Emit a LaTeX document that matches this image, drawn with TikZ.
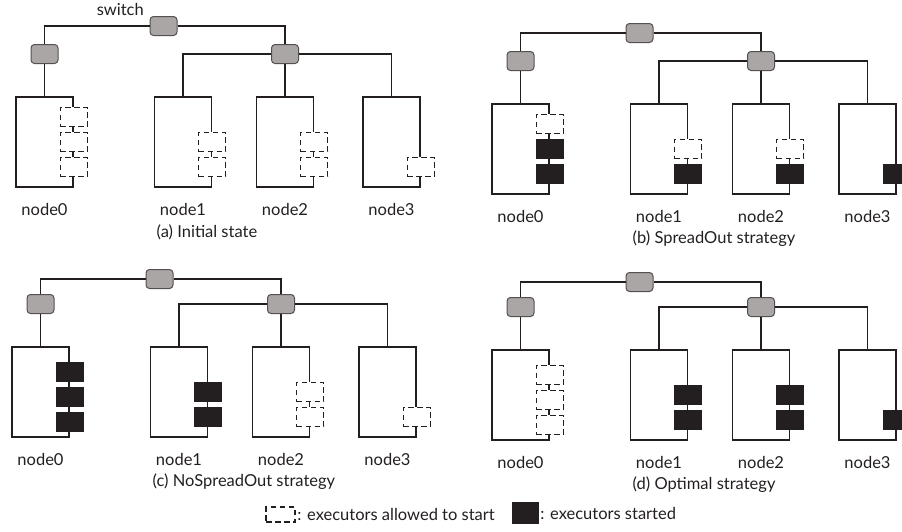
\documentclass[tikz,border=0pt]{standalone}
\usepackage{fontspec}
\setmainfont{Lato}
\usetikzlibrary{positioning}

\definecolor{swfill}{RGB}{170,166,165}
\definecolor{swline}{RGB}{85,80,80}
\definecolor{ink}{RGB}{35,31,32}

\tikzset{
  sw/.style={draw=swline, fill=swfill, rounded corners=3.5pt, line width=1pt,
    minimum width=27pt, minimum height=19pt, inner sep=0pt},
  host/.style={draw=ink, minimum width=57pt, minimum height=90pt, inner sep=0pt},
  wait/.style={draw=ink, fill=white, dash pattern=on 5.5pt off 3.5pt,
    minimum width=27pt, minimum height=19.5pt, inner sep=0pt},
  run/.style={draw=ink, fill=ink, minimum width=27pt, minimum height=19.5pt, inner sep=0pt},
  lbl/.style={font=\fontsize{16.5}{19}\selectfont, inner sep=0pt},
}

% one cluster: #1 prefix, #2,#3 shift, #4 height of the top link, #5 caption
\newcommand{\cluster}[5]{%
\begin{scope}[shift={(#2,#3)}]
\node[sw] (#1r) at (163.5,#4) {};
\node[sw] (#1s0) at (44.5,54) {};
\node[sw] (#1s1) at (285,54) {};
\node[host] (#1n0) at (44.5,142) {};
\node[host] (#1n1) at (183,142) {};
\node[host] (#1n2) at (285,142) {};
\node[host] (#1n3) at (391.5,142) {};
\draw (#1s0) |- (#1r) -| (#1s1);
\draw (#1s0) -- (#1n0);
\draw (#1s1) -| (#1n1) (#1s1) -- (#1n2) (#1s1) -| (#1n3);
\node[lbl, below=15pt of #1n0] (#1l0) {node0};
\node[lbl, below=15pt of #1n1] (#1l1) {node1};
\node[lbl, below=15pt of #1n2] (#1l2) {node2};
\node[lbl, below=15pt of #1n3] (#1l3) {node3};
\node[lbl, anchor=west] (#1cap) at (156,232) {#5};
\end{scope}}

% executor sitting on the right edge of a host
\newcommand{\ex}[4]{\node[#1] (#2) at ([shift={(0,#4)}]#3.east) {};}

\begin{document}
\begin{tikzpicture}[x=1pt, y=-1pt, line width=1.4pt, ink]
\useasboundingbox (0,0) rectangle (902,531);

\cluster{a}{0}{0}{26}{(a) Initial state}
\cluster{b}{476}{7}{26}{(b) SpreadOut strategy}
\cluster{c}{-4}{250}{29}{(c) NoSpreadOut strategy}
\cluster{d}{476}{253}{29}{(d) Optimal strategy}

\node[lbl, above left=0pt and 5pt of ar] (swl) {switch};

% (a)
\ex{wait}{a0a}{an0}{-25} \ex{wait}{a0b}{an0}{0} \ex{wait}{a0c}{an0}{25}
\ex{wait}{a1a}{an1}{0} \ex{wait}{a1b}{an1}{25}
\ex{wait}{a2a}{an2}{0} \ex{wait}{a2b}{an2}{25}
\ex{wait}{a3a}{an3}{25}
% (b)
\ex{wait}{b0a}{bn0}{-25} \ex{run}{b0b}{bn0}{0} \ex{run}{b0c}{bn0}{25}
\ex{wait}{b1a}{bn1}{0} \ex{run}{b1b}{bn1}{25}
\ex{wait}{b2a}{bn2}{0} \ex{run}{b2b}{bn2}{25}
\ex{run}{b3a}{bn3}{25}
% (c)
\ex{run}{c0a}{cn0}{-20} \ex{run}{c0b}{cn0}{5} \ex{run}{c0c}{cn0}{30}
\ex{run}{c1a}{cn1}{0} \ex{run}{c1b}{cn1}{25}
\ex{wait}{c2a}{cn2}{0} \ex{wait}{c2b}{cn2}{25}
\ex{wait}{c3a}{cn3}{25}
% (d)
\ex{wait}{d0a}{dn0}{-20} \ex{wait}{d0b}{dn0}{5} \ex{wait}{d0c}{dn0}{30}
\ex{run}{d1a}{dn1}{0} \ex{run}{d1b}{dn1}{25}
\ex{run}{d2a}{dn2}{0} \ex{run}{d2b}{dn2}{25}
\ex{run}{d3a}{dn3}{25}

% legend
\node[wait, minimum width=29pt, minimum height=15pt] (kw) at (280.5,514.5) {};
\node[lbl, right=1pt of kw] (kwt) {: executors allowed to start};
\node[run, minimum width=25pt, minimum height=20pt] (kr) at (525.5,513) {};
\node[lbl, right=1pt of kr] (krt) {: executors started};
\end{tikzpicture}
\end{document}
